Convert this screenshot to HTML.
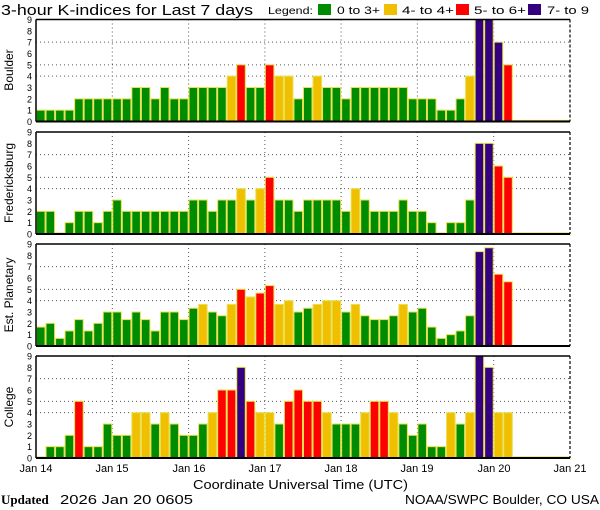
<!DOCTYPE html>
<html><head><meta charset="utf-8"><style>
html,body{margin:0;padding:0;background:#fff;}
svg{display:block;font-family:"Liberation Sans",sans-serif;}
</style></head><body>
<svg id="s" width="600" height="510" viewBox="0 0 600 510" xmlns="http://www.w3.org/2000/svg">
<rect width="600" height="510" fill="#fff"/>
<text x="1" y="15" font-size="15" textLength="252" lengthAdjust="spacingAndGlyphs">3-hour K-indices for Last 7 days</text>
<text x="268" y="14" font-size="10" textLength="45" lengthAdjust="spacingAndGlyphs">Legend:</text>
<rect x="318" y="4" width="13" height="11" fill="#008c00"/>
<text x="337" y="14" font-size="11" textLength="43" lengthAdjust="spacingAndGlyphs">0 to 3+</text>
<rect x="384" y="4" width="13" height="11" fill="#f0c000"/>
<text x="402" y="14" font-size="11" textLength="52" lengthAdjust="spacingAndGlyphs">4- to 4+</text>
<rect x="456" y="4" width="13" height="11" fill="#ff0000"/>
<text x="474" y="14" font-size="11" textLength="52" lengthAdjust="spacingAndGlyphs">5- to 6+</text>
<rect x="528" y="4" width="13" height="11" fill="#330080"/>
<text x="547" y="14" font-size="11" textLength="42" lengthAdjust="spacingAndGlyphs">7- to 9</text>
<g id="plots"></g>
<g font-size="11" text-anchor="middle">
<text x="36" y="472">Jan 14</text><text x="112" y="472">Jan 15</text><text x="189" y="472">Jan 16</text><text x="265" y="472">Jan 17</text><text x="341" y="472">Jan 18</text><text x="417" y="472">Jan 19</text><text x="494" y="472">Jan 20</text><text x="570" y="472">Jan 21</text>
</g>
<text x="193" y="489" font-size="13" textLength="215" lengthAdjust="spacingAndGlyphs">Coordinate Universal Time (UTC)</text>
<text x="1" y="504" font-size="13" font-family="Liberation Serif,serif" font-weight="bold">Updated</text>
<text x="60" y="504" font-size="13" textLength="133" lengthAdjust="spacingAndGlyphs">2026 Jan 20 0605</text>
<text x="405" y="504" font-size="13" textLength="194" lengthAdjust="spacingAndGlyphs">NOAA/SWPC Boulder, CO USA</text>
<g font-size="12" text-anchor="middle">
<text transform="translate(13,70) rotate(-90)">Boulder</text>
<text transform="translate(13,183) rotate(-90)">Fredericksburg</text>
<text transform="translate(13,295) rotate(-90)">Est. Planetary</text>
<text transform="translate(13,407) rotate(-90)">College</text>
</g>
<g id="ylab" font-size="9" text-anchor="end"></g>
</svg>
<script>
var data=[
[1,1,1,1,2,2,2,2,2,2,3,3,2,3,2,2,3,3,3,3,4,5,3,3,5,4,4,2,3,4,3,3,2,3,3,3,3,3,3,2,2,2,1,1,2,4,9,9,7,5,.1,.1,.1,.1,.1,.1],
[2,2,.1,1,2,2,1,2,3,2,2,2,2,2,2,2,3,3,2,3,3,4,3,4,5,3,3,2,3,3,3,3,2,4,3,2,2,2,3,2,2,1,.1,1,1,3,8,8,6,5,.1,.1,.1,.1,.1,.1],
[1.67,2,.67,1.33,2.33,1.33,2,3,3,2.33,3,2.33,1.33,3,3,2.33,3.33,3.67,3,2.67,3.67,5,4.33,4.67,5.33,3.67,4,3,3.33,3.67,4,4,3,3.67,2.67,2.33,2.33,2.33,2.67,3.67,3,3.33,1.67,.67,1,1.33,2.67,8.33,8.67,6.33,5.67,0,0,0,0,0],
[.1,1,1,2,5,1,1,3,2,2,4,4,3,4,3,2,2,3,4,6,6,8,5,4,4,3,5,6,5,5,4,3,3,3,4,5,5,4,3,2,3,1,1,4,3,4,9,8,4,4,.1,.1,.1,.1,.1,.1]];
// fix planetary: remove misplaced extra element to keep 56 with correct alignment
data[2]=[1.67,2,.67,1.33,2.33,1.33,2,3,3,2.33,3,2.33,1.33,3,3,2.33,3.33,3.67,3,2.67,3.67,5,4.33,4.67,5.33,3.67,4,3,3.33,3.67,4,4,3,3.67,2.67,2.33,2.33,2.67,3.67,3,3.33,1.67,.67,1,1.33,2.67,8.33,8.67,6.33,5.67,0,0,0,0,0,0];
var tops=[19.5,132,244,356],H=102,L=36,R=570,u=H/9,bw=(R-L)/56;
var ns="http://www.w3.org/2000/svg",g=document.getElementById('plots'),yl=document.getElementById('ylab');
function el(t,a,p){var e=document.createElementNS(ns,t);for(var k in a)e.setAttribute(k,a[k]);(p||g).appendChild(e);return e;}
function col(v,i){if(v>=6.5)return'#330080';if(v>=4.5)return'#ff0000';if(v>=3.5)return'#f0c000';return'#008c00';}
for(var p=0;p<4;p++){var t=tops[p],b=t+H;
 [4,5,7].forEach(function(k){el('line',{x1:L,x2:R,y1:b-k*u,y2:b-k*u,stroke:'#555','stroke-width':1,'stroke-dasharray':'1,3'});});
 for(var d=1;d<7;d++){var x=L+d*(R-L)/7;el('line',{x1:x,x2:x,y1:t,y2:b,stroke:'#555','stroke-width':1,'stroke-dasharray':'1,3'});}
 data[p].forEach(function(v,i){if(v<=0)return;var h=v*u;var c=col(v,i);
   var x=L+i*bw;
   el('rect',{x:x+0.5,y:b-h,width:bw-1,height:h,fill:c,stroke:'#e8e050','stroke-width':1});});
 el('line',{x1:L,x2:R,y1:t,y2:t,stroke:'#000','stroke-width':1.5});
 el('line',{x1:L,x2:R,y1:b,y2:b,stroke:'#000','stroke-width':2});
 el('line',{x1:L,x2:L,y1:t,y2:b,stroke:'#000','stroke-width':1.5});
 el('line',{x1:R,x2:R,y1:t,y2:b,stroke:'#000','stroke-width':1.2,'stroke-dasharray':'3,2'});
 for(var k=0;k<=9;k++){var e=el('text',{x:32,y:b-k*u+3.5},yl);e.textContent=k;}
}
</script>
</body></html>
